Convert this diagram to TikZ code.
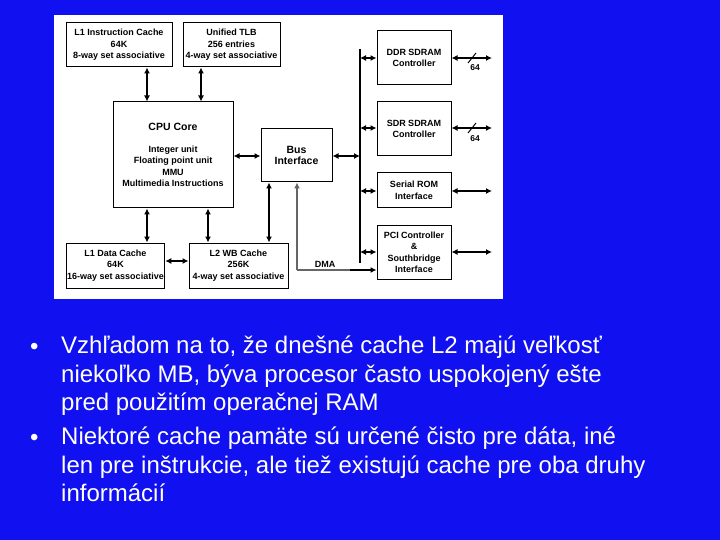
\documentclass[tikz,border=0pt]{standalone}
\usepackage{fontspec}
\setmainfont{Liberation Sans}
\usetikzlibrary{arrows.meta}
\definecolor{bg}{RGB}{16,16,240}
\begin{document}
\begin{tikzpicture}[x=1pt,y=-1pt,
  blk/.style={draw=black,line width=1pt,fill=white,font=\fontsize{9}{11.5}\selectfont\bfseries,align=center,inner sep=1pt},
  ar/.style={line width=1.6pt,{Latex[length=6pt,width=6pt]}-{Latex[length=6pt,width=6pt]}},
  bul/.style={text=white,font=\fontsize{24}{28.5}\selectfont,anchor=north west,align=left,inner sep=0pt},
  dot/.style={text=white,font=\fontsize{24}{28.5}\selectfont,anchor=base west,inner sep=0pt}]
\fill[bg] (0,0) rectangle (720,540);
\fill[white] (54,15) rectangle (503,299);
\node[blk,minimum width=106pt,minimum height=44pt] (l1i) at (119,45) {L1 Instruction Cache\\64K\\8-way set associative};
\node[blk,minimum width=97pt,minimum height=44pt] (tlb) at (231.5,45) {Unified TLB\\256 entries\\4-way set associative};
\node[blk,minimum width=120pt,minimum height=106pt] (cpu) at (173,155) {\fontsize{10.5}{12}\selectfont CPU Core\\[10pt]Integer unit\\Floating point unit\\MMU\\Multimedia Instructions};
\node[blk,minimum width=71pt,minimum height=53pt] (bus) at (296.5,155.5) {\fontsize{10.5}{12}\selectfont Bus\\\fontsize{10.5}{12}\selectfont Interface};
\node[blk,minimum width=97pt,minimum height=45pt] (l1d) at (115.5,265.5) {L1 Data Cache\\64K\\16-way set associative};
\node[blk,minimum width=99pt,minimum height=45pt] (l2) at (238.5,265.5) {L2 WB Cache\\256K\\4-way set associative};
\node[blk,minimum width=74pt,minimum height=54pt] (ddr) at (414,58) {DDR SDRAM\\Controller};
\node[blk,minimum width=74pt,minimum height=54pt] (sdr) at (414,129) {SDR SDRAM\\Controller};
\node[blk,minimum width=74pt,minimum height=35pt] (rom) at (414,190.5) {Serial ROM\\Interface};
\node[blk,minimum width=74pt,minimum height=53pt] (pci) at (414,252.5) {PCI Controller\\\&\\Southbridge\\Interface};
\coordinate (vt) at (360,49); \coordinate (vb) at (360,263);
\draw[line width=1.6pt] (vt) -- (vb);
\draw[ar] (l1i.south -| 147,0) -- (cpu.north -| 147,0);
\draw[ar] (tlb.south -| 201,0) -- (cpu.north -| 201,0);
\draw[ar] (cpu.south -| 147,0) -- (l1d.north -| 147,0);
\draw[ar] (cpu.south -| 208,0) -- (l2.north -| 208,0);
\draw[ar] (l1d.east |- 0,261) -- (l2.west |- 0,261);
\draw[ar] (bus.south -| 269,0) -- (l2.north -| 269,0);
\draw[ar] (cpu.east |- 0,156) -- (bus.west |- 0,156);
\draw[ar] (bus.east |- 0,156) -- (vt |- 0,156);
\draw[ar] (vt |- 0,58) -- (ddr.west |- 0,58);
\draw[ar] (vt |- 0,128) -- (sdr.west |- 0,128);
\draw[ar] (vt |- 0,191) -- (rom.west |- 0,191);
\draw[ar] (vt |- 0,252) -- (pci.west |- 0,252);
\coordinate (e1) at (492,58); \coordinate (e2) at (492,128); \coordinate (e3) at (492,191); \coordinate (e4) at (492,252);
\draw[ar] (ddr.east |- e1) -- (e1);
\draw[ar] (sdr.east |- e2) -- (e2);
\draw[ar] (rom.east |- e3) -- (e3);
\draw[ar] (pci.east |- e4) -- (e4);
\draw[line width=1pt] (468,63) -- (476,53); \draw[line width=1pt] (468,133) -- (476,123);
\node[font=\fontsize{8.5}{10}\selectfont\bfseries] (n1) at (475,68) {64};
\node[font=\fontsize{8.5}{10}\selectfont\bfseries] (n2) at (475,139) {64};
\coordinate (dc) at (297,270);
\draw[line width=1.6pt,gray!80!black,-{Latex[length=6pt,width=6pt]}] (dc) -- (bus.south -| dc);
\draw[line width=1.6pt,gray!80!black] (dc) -- (350,270);
\draw[line width=1.6pt,-{Latex[length=6pt,width=6pt]}] (350,270) -- (pci.west |- 0,270);
\node[font=\fontsize{9}{11}\selectfont\bfseries] (dma) at (325,264) {DMA};
\node[dot] (b1) at (30,354) {•};
\node[bul] (t1) at (61,336) {Vzhľadom na to, že dnešné cache L2 majú veľkosť\\niekoľko MB, býva procesor často uspokojený ešte\\pred použitím operačnej RAM};
\node[dot] (b2) at (30,445) {•};
\node[bul] (t2) at (61,427) {Niektoré cache pamäte sú určené čisto pre dáta, iné\\len pre inštrukcie, ale tiež existujú cache pre oba druhy\\informácií};
\end{tikzpicture}
\end{document}
